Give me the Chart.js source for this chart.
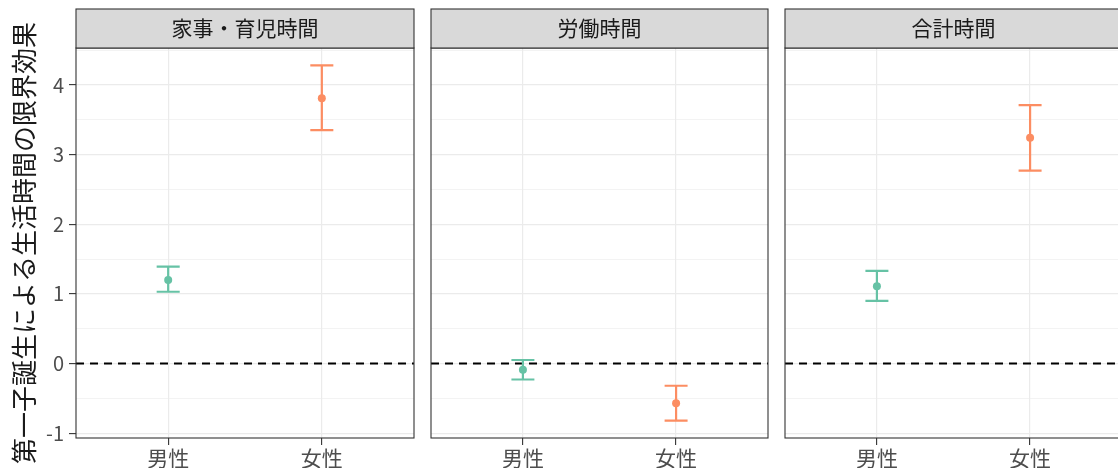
<!DOCTYPE html>
<html>
<head>
<meta charset="utf-8">
<script src="https://cdn.jsdelivr.net/npm/chart.js@4"></script>
<style>
  body { margin: 0; background: #fff; overflow: hidden; width: 1118px; height: 468px; position: relative; }
  canvas { position: absolute; top: 0; }
</style>
</head>
<body>
<canvas id="panel0" width="418" height="468" style="left:0px"></canvas>
<canvas id="panel1" width="345" height="468" style="left:427px"></canvas>
<canvas id="panel2" width="345" height="468" style="left:781px"></canvas>
<script>
const facetTitles = ['家事・育児時間', '労働時間', '合計時間'];
const sexes = ['男性', '女性'];
const sexColors = ['#66C2A5', '#FC8D62'];
const yTitle = '第一子誕生による生活時間の限界効果';

// 推定値と信頼区間 (男性, 女性)
const estHousework = [1.20, 3.81];
const lowHousework = [1.03, 3.35];
const highHousework = [1.39, 4.28];
const estWork = [-0.09, -0.57];
const lowWork = [-0.23, -0.82];
const highWork = [0.05, -0.32];
const estTotal = [1.11, 3.24];
const lowTotal = [0.90, 2.77];
const highTotal = [1.33, 3.71];

const yMin = -1.07;
const yMax = 4.53;
const FONT = '"Noto Sans CJK JP", "Noto Sans", sans-serif';
const CAP = 0.075;

const panelData = [
  { est: estHousework, low: lowHousework, high: highHousework },
  { est: estWork, low: lowWork, high: highWork },
  { est: estTotal, low: lowTotal, high: highTotal }
];

const isMajor = (ctx) => ctx.tick && Number.isInteger(ctx.tick.value);

const panelDeco = {
  id: 'panelDeco',
  afterDraw(chart, args, opts) {
    const { ctx, chartArea: a } = chart;
    ctx.save();
    ctx.strokeStyle = '#333333';
    ctx.lineWidth = 1.1;
    ctx.strokeRect(a.left, a.top, a.right - a.left, a.bottom - a.top);
    // ストリップ
    ctx.fillStyle = '#d9d9d9';
    ctx.fillRect(a.left, 9, a.right - a.left, a.top - 9);
    ctx.strokeRect(a.left, 9, a.right - a.left, a.top - 9);
    ctx.fillStyle = '#1a1a1a';
    ctx.font = '21px ' + FONT;
    ctx.textAlign = 'center';
    ctx.textBaseline = 'middle';
    ctx.fillText(opts.title, (a.left + a.right) / 2, 28);
    ctx.restore();
  }
};

function errorPath(i, low, high) {
  const x = i + 1;
  return [
    { x: x - CAP, y: high[i] }, { x: x + CAP, y: high[i] },
    { x: x, y: high[i] }, { x: x, y: low[i] },
    { x: x - CAP, y: low[i] }, { x: x + CAP, y: low[i] }
  ];
}

function makePanel(idx) {
  const d = panelData[idx];
  const first = idx === 0;
  const datasets = [
    {
      data: d.est.map((v, i) => ({ x: i + 1, y: v })),
      pointBackgroundColor: sexColors,
      pointBorderWidth: 0,
      pointRadius: 4,
      order: 0
    },
    ...sexes.map((s, i) => ({
      data: errorPath(i, d.low, d.high),
      showLine: true,
      borderColor: sexColors[i],
      borderWidth: 2.2,
      pointRadius: 0,
      order: 1
    })),
    {
      data: [{ x: 0.4, y: 0 }, { x: 2.6, y: 0 }],
      showLine: true,
      borderColor: '#000000',
      borderWidth: 1.8,
      borderDash: [8, 6],
      pointRadius: 0,
      order: 2
    }
  ];

  new Chart(document.getElementById('panel' + idx), {
    type: 'scatter',
    data: { datasets },
    plugins: [panelDeco],
    options: {
      responsive: false,
      animation: false,
      layout: { padding: { top: 48, left: first ? 0 : 3, right: 3, bottom: 0 } },
      plugins: {
        legend: { display: false },
        tooltip: { enabled: false },
        panelDeco: { title: facetTitles[idx] }
      },
      scales: {
        x: {
          type: 'linear',
          min: 0.4,
          max: 2.6,
          afterBuildTicks: (scale) => { scale.ticks = sexes.map((s, i) => ({ value: i + 1 })); },
          afterFit: (scale) => { scale.height = 30; },
          border: { display: false },
          grid: { color: '#ebebeb', lineWidth: 1.2, tickColor: '#333333', tickLength: 7, tickWidth: 1.1 },
          ticks: {
            callback: (v) => sexes[Math.round(v) - 1],
            color: '#4d4d4d',
            font: { family: FONT, size: 21 },
            padding: 0,
            maxRotation: 0
          }
        },
        y: {
          min: yMin,
          max: yMax,
          afterFit: (scale) => { scale.width = first ? 76 : 0; },
          border: { display: false },
          grid: {
            color: '#ebebeb',
            lineWidth: (ctx) => isMajor(ctx) ? 1.2 : 0.6,
            drawTicks: first,
            tickLength: 7,
            tickWidth: 1.1,
            tickColor: (ctx) => isMajor(ctx) ? '#333333' : 'rgba(0,0,0,0)'
          },
          ticks: {
            display: first,
            stepSize: 0.5,
            includeBounds: false,
            callback: (v) => Number.isInteger(v) ? v : '',
            color: '#4d4d4d',
            font: { family: FONT, size: 20 },
            padding: 5
          },
          title: {
            display: first,
            text: yTitle,
            color: '#1a1a1a',
            font: { family: FONT, size: 26 },
            padding: { top: 9, bottom: 0 }
          }
        }
      }
    }
  });
}

facetTitles.forEach((t, i) => makePanel(i));
</script>
</body>
</html>
